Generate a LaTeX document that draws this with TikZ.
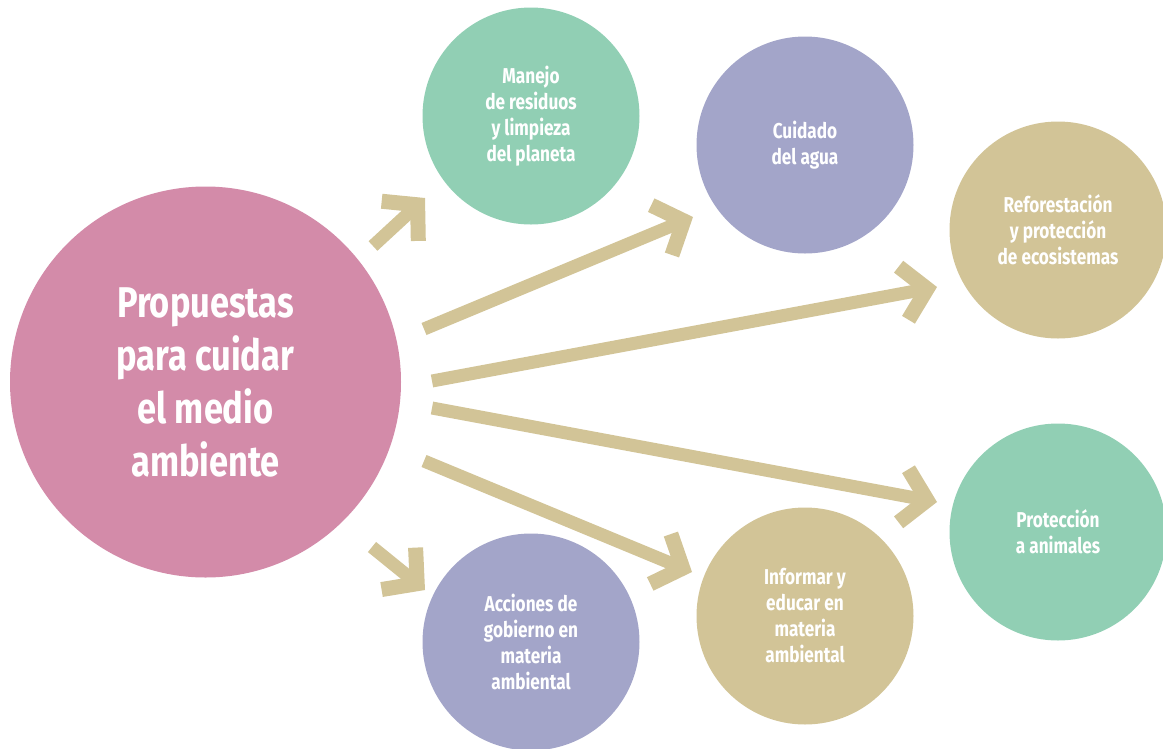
\documentclass[tikz,border=0pt]{standalone}
\usepackage{fontspec}
\setmainfont{Fira Sans}[FakeStretch=0.8]
\usetikzlibrary{arrows.meta}
\definecolor{cpink}{HTML}{D38BA9}
\definecolor{cgreen}{HTML}{91CFB4}
\definecolor{clav}{HTML}{A3A5C9}
\definecolor{ctan}{HTML}{D2C497}
\begin{document}
\begin{tikzpicture}[x=1pt,y=-1pt,
  bubble/.style={circle,inner sep=0pt,minimum size=217pt,text=white,align=center,
    font=\fontsize{21.5}{26}\selectfont\bfseries},
  mainbubble/.style={circle,inner sep=0pt,minimum size=391pt,fill=cpink,text=white,align=center,
    font=\fontsize{43}{53}\selectfont\bfseries},
  conn/.style={draw=ctan,line width=13pt,
    -{Straight Barb[sharp,length=24pt,width=54pt,line width=15pt]}}]
\useasboundingbox (0,0) rectangle (1163,748);
\node[mainbubble] (main) at (205.5,382) {Propuestas\\para cuidar\\el medio\\ambiente};
\node[bubble,fill=cgreen] (c1) at (531,116) {Manejo\\de residuos\\y limpieza\\del planeta};
\node[bubble,fill=clav] (c2) at (805,145) {Cuidado\\del agua};
\node[bubble,fill=ctan] (c3) at (1058,230) {Reforestación\\y protección\\de ecosistemas};
\node[bubble,fill=cgreen] (c4) at (1058,532) {Protección\\a animales};
\node[bubble,fill=ctan] (c5) at (805,616) {Informar y\\educar en\\materia\\ambiental};
\node[bubble,fill=clav] (c6) at (531,642) {Acciones de\\gobierno en\\materia\\ambiental};
\coordinate (t1) at (373,246); \coordinate (h1) at (425,198);
\coordinate (t2) at (424,329); \coordinate (h2) at (693,217);
\coordinate (t3) at (432,381); \coordinate (h3) at (937,287);
\coordinate (t4) at (432,408); \coordinate (h4) at (937,502);
\coordinate (t5) at (424,461); \coordinate (h5) at (692,572);
\coordinate (t6) at (372,547); \coordinate (h6) at (425,590);
\draw[conn] (t1) -- (h1);
\draw[conn] (t2) -- (h2);
\draw[conn] (t3) -- (h3);
\draw[conn] (t4) -- (h4);
\draw[conn] (t5) -- (h5);
\draw[conn] (t6) -- (h6);
\end{tikzpicture}
\end{document}
